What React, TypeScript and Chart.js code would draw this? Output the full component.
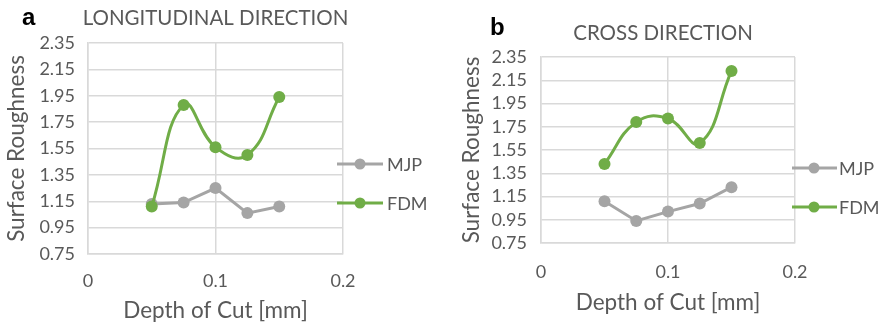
import React, { useEffect, useRef } from "react";
import { Chart, registerables } from "chart.js";

Chart.register(...registerables);

const depths = [0.05, 0.075, 0.1, 0.125, 0.15];
const xTicks = [0, 0.1, 0.2];
const yMin = 0.75;
const yMax = 2.35;
const yStep = 0.2;

const longMJP = [1.13, 1.14, 1.25, 1.06, 1.11];
const longFDM = [1.11, 1.88, 1.56, 1.5, 1.94];
const crossMJP = [1.11, 0.94, 1.02, 1.09, 1.23];
const crossFDM = [1.43, 1.79, 1.82, 1.61, 2.23];

const seriesNames = ["MJP", "FDM"];
const panelLetters = ["a", "b"];
const panelTitles = ["LONGITUDINAL DIRECTION", "CROSS DIRECTION"];
const yTitle = "Surface Roughness";
const xTitle = "Depth of Cut [mm]";

const GRAY = "#A5A5A5";
const GREEN = "#70AD47";
const TEXT = "#595959";
const GRID = "#D9D9D9";
const FONT = "Lato, 'Open Sans', sans-serif";

type Layout = {
  padTop: number;
  padRight: number;
  yWidth: number;
  xHeight: number;
  yTitlePad: number;
  yTickPad: number;
  xTickPad: number;
  xTitlePadBottom: number;
  letterX: number;
  letterY: number;
  titleX: number;
  titleY: number;
  legLineX0: number;
  legLineX1: number;
  legCircleX: number;
  legTextX: number;
  legY: number[];
};

const layouts: Layout[] = [
  {
    padTop: 43, padRight: 97, yWidth: 88, xHeight: 75,
    yTitlePad: 4, yTickPad: 13, xTickPad: 16, xTitlePadBottom: 5,
    letterX: 22, letterY: 25, titleX: 215.5, titleY: 25,
    legLineX0: 337, legLineX1: 383, legCircleX: 360, legTextX: 387, legY: [164, 203],
  },
  {
    padTop: 57, padRight: 85, yWidth: 101, xHeight: 86,
    yTitlePad: 19, yTickPad: 14, xTickPad: 18, xTitlePadBottom: 13,
    letterX: 50, letterY: 35, titleX: 223, titleY: 40,
    legLineX0: 352, legLineX1: 397, legCircleX: 374, legTextX: 399, legY: [168, 207],
  },
];

const decoPlugin = {
  id: "panelDeco",
  afterDraw(chart: any) {
    const o = chart.options.plugins.panelDeco;
    if (!o) return;
    const L: Layout = o.layout;
    const ctx = chart.ctx;
    ctx.save();
    ctx.fillStyle = "#000";
    ctx.font = "bold 24px 'Liberation Sans', Arial, sans-serif";
    ctx.textAlign = "left";
    ctx.textBaseline = "alphabetic";
    ctx.fillText(o.letter, L.letterX, L.letterY);
    ctx.fillStyle = TEXT;
    ctx.font = `20.5px ${FONT}`;
    ctx.textAlign = "center";
    ctx.fillText(o.title, L.titleX, L.titleY);
    const colors = [GRAY, GREEN];
    chart.data.datasets.forEach((ds: any, i: number) => {
      const y = L.legY[i];
      ctx.strokeStyle = colors[i];
      ctx.lineWidth = 3;
      ctx.beginPath();
      ctx.moveTo(L.legLineX0, y);
      ctx.lineTo(L.legLineX1, y);
      ctx.stroke();
      ctx.fillStyle = colors[i];
      ctx.beginPath();
      ctx.arc(L.legCircleX, y, 5.5, 0, Math.PI * 2);
      ctx.fill();
      ctx.fillStyle = TEXT;
      ctx.font = `18px ${FONT}`;
      ctx.textAlign = "left";
      ctx.textBaseline = "middle";
      ctx.fillText(ds.label, L.legTextX, y + 1);
    });
    ctx.restore();
  },
};

function Panel({ idx, mjp, fdm }: { idx: number; mjp: number[]; fdm: number[] }) {
  const ref = useRef<HTMLCanvasElement>(null);
  useEffect(() => {
    const L = layouts[idx];
    const chart = new Chart(ref.current!, {
      type: "line",
      data: {
        datasets: [
          {
            label: seriesNames[0],
            data: depths.map((x, i) => ({ x, y: mjp[i] })),
            borderColor: GRAY,
            backgroundColor: GRAY,
            borderWidth: 3,
            pointRadius: 6,
            pointBorderWidth: 0,
            pointBackgroundColor: GRAY,
            tension: 0,
            order: 1,
          },
          {
            label: seriesNames[1],
            data: depths.map((x, i) => ({ x, y: fdm[i] })),
            borderColor: GREEN,
            backgroundColor: GREEN,
            borderWidth: 3,
            pointRadius: 6,
            pointBorderWidth: 0,
            pointBackgroundColor: GREEN,
            tension: 0.45,
            order: 0,
          },
        ],
      },
      options: {
        animation: false,
        responsive: false,
        devicePixelRatio: 1,
        layout: { padding: { top: L.padTop, right: L.padRight, bottom: 0, left: 0 } },
        plugins: {
          legend: { display: false },
          tooltip: { enabled: false },
          title: { display: false },
          panelDeco: { layout: L, letter: panelLetters[idx], title: panelTitles[idx] },
        } as any,
        scales: {
          x: {
            type: "linear",
            min: xTicks[0],
            max: xTicks[xTicks.length - 1],
            afterBuildTicks: (s: any) => {
              s.ticks = xTicks.map((v) => ({ value: v }));
            },
            afterFit: (s: any) => {
              s.height = L.xHeight;
            },
            ticks: {
              color: TEXT,
              font: { family: FONT, size: 18 },
              padding: L.xTickPad,
              autoSkip: false,
              maxRotation: 0,
              callback: (v: any) => String(Number(v)),
            },
            grid: { color: GRID, lineWidth: 1.5, drawTicks: false },
            border: { color: GRID, width: 1.5 },
            title: {
              display: true,
              text: xTitle,
              color: TEXT,
              font: { family: FONT, size: 22.5 },
              padding: { top: 0, bottom: L.xTitlePadBottom },
            },
          },
          y: {
            type: "linear",
            min: yMin,
            max: yMax,
            ticks: {
              stepSize: yStep,
              autoSkip: false,
              color: TEXT,
              font: { family: FONT, size: 18 },
              padding: L.yTickPad,
              callback: (v: any) => Number(v).toFixed(2),
            },
            afterFit: (s: any) => {
              s.width = L.yWidth;
            },
            grid: { color: GRID, lineWidth: 1.5, drawTicks: false },
            border: { color: GRID, width: 1.5 },
            title: {
              display: true,
              text: yTitle,
              color: TEXT,
              font: { family: FONT, size: 22.5 },
              padding: { top: L.yTitlePad - 1, bottom: 0 },
            },
          },
        },
      },
      plugins: [decoPlugin],
    });
    return () => chart.destroy();
  }, [idx, mjp, fdm]);
  return (
    <canvas
      ref={ref}
      width={440}
      height={329}
      style={{ position: "absolute", left: idx * 440, top: 0, width: 440, height: 329 }}
    />
  );
}

export default function App() {
  return (
    <div style={{ position: "fixed", left: 0, top: 0, width: 880, height: 329, background: "#fff" }}>
      <Panel idx={0} mjp={longMJP} fdm={longFDM} />
      <Panel idx={1} mjp={crossMJP} fdm={crossFDM} />
    </div>
  );
}
